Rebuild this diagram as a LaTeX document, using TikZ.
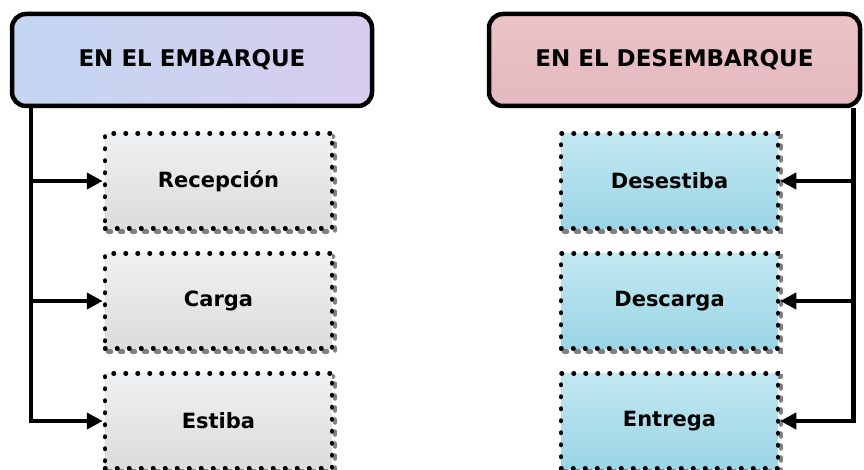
\documentclass[tikz,border=0pt]{standalone}
\usepackage{fontspec}
\setmainfont{DejaVu Sans}
\usetikzlibrary{arrows.meta,calc}
\definecolor{hdrblueA}{HTML}{C3D6F1}
\definecolor{hdrblueB}{HTML}{D8CDEF}
\definecolor{hdrpinkA}{HTML}{EBC3C8}
\definecolor{hdrpinkB}{HTML}{E4B9BF}
\definecolor{marbleA}{HTML}{EFF0F1}
\definecolor{marbleB}{HTML}{DADCDE}
\definecolor{aquaA}{HTML}{C2E8F1}
\definecolor{aquaB}{HTML}{9AD4E5}
\definecolor{shadowgray}{HTML}{808080}
\begin{document}
\begin{tikzpicture}[x=1pt,y=-1pt,
  header/.style={draw=black, line width=4.5pt, rounded corners=14pt,
    minimum height=92pt, inner sep=0pt,
    font=\fontsize{23}{27}\selectfont\bfseries},
  taskbox/.style={minimum height=95pt, inner sep=0pt,
    font=\fontsize{21}{25}\selectfont\bfseries,
    draw=black, line width=4.5pt, line cap=round,
    dash pattern=on 0.5pt off 11.5pt,
    preaction={draw=shadowgray, line width=4.5pt, line cap=round,
      dash pattern=on 3pt off 9pt,
      transform canvas={shift={(3pt,-3pt)}}}},
  leftbox/.style={taskbox, minimum width=227pt, top color=marbleA, bottom color=marbleB},
  rightbox/.style={taskbox, minimum width=217pt, top color=aquaA, bottom color=aquaB},
  conn/.style={draw=black, line width=4.5pt, line join=miter},
  arr/.style={conn, -{Triangle[length=16pt,width=16pt]}}
]
\useasboundingbox (0,0) rectangle (864,470);

% headers
\node[header, minimum width=360pt, left color=hdrblueA, right color=hdrblueB] (hL) at (192,60) {EN EL EMBARQUE};
\node[header, minimum width=371pt, top color=hdrpinkA, bottom color=hdrpinkB] (hR) at (674.5,60) {EN EL DESEMBARQUE};

% left boxes
\node[leftbox] (L1) at (218.5,181) {Recepción};
\node[leftbox] (L2) at (218.5,301) {Carga};
\node[leftbox] (L3) at (218.5,421) {Estiba};

% right boxes
\node[rightbox] (R1) at (669.5,181) {Desestiba};
\node[rightbox] (R2) at (669.5,301) {Descarga};
\node[rightbox] (R3) at (669.5,421) {Entrega};

% connectors left
\coordinate (lt) at ($(hL.south west)+(21,0)$);
\draw[arr] (lt) |- (L3.west);
\draw[arr] (lt |- L1.west) -- (L1.west);
\draw[arr] (lt |- L2.west) -- (L2.west);

% connectors right
\coordinate (rt) at ($(hR.south east)+(-9,0)$);
\draw[arr] (rt) |- (R3.east);
\draw[arr] (rt |- R1.east) -- (R1.east);
\draw[arr] (rt |- R2.east) -- (R2.east);
\end{tikzpicture}
\end{document}
